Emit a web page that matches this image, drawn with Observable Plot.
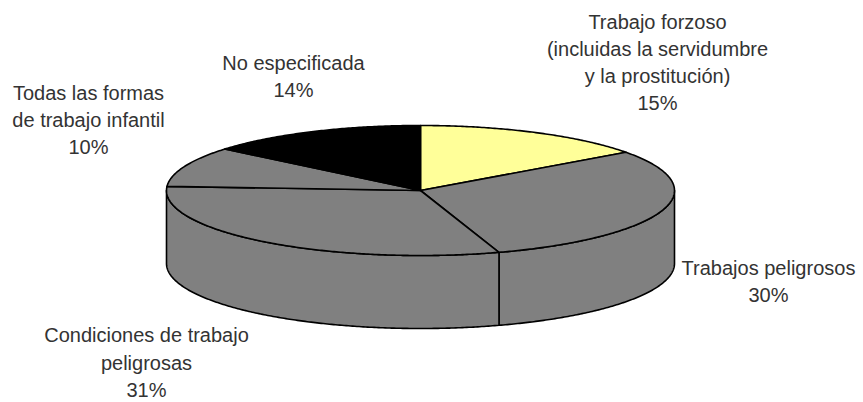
<!DOCTYPE html>
<html>
<head>
<meta charset="utf-8">
<script src="https://cdn.jsdelivr.net/npm/d3@7"></script>
<script src="https://cdn.jsdelivr.net/npm/@observablehq/plot@0.6"></script>
<style>
  html, body { margin: 0; padding: 0; background: #ffffff; }
  #chart svg { display: block; }
</style>
</head>
<body>
<div id="chart"></div>
<script>
// ---- Data ----
const categories = [
  "Trabajo forzoso (incluidas la servidumbre y la prostitución)",
  "Trabajos peligrosos",
  "Condiciones de trabajo peligrosas",
  "Todas las formas de trabajo infantil",
  "No especificada"
];
const values = [15, 30, 31, 10, 14];
const labelTexts = [
  "Trabajo forzoso\n(incluidas la servidumbre\ny la prostitución)\n15%",
  "Trabajos peligrosos\n30%",
  "Condiciones de trabajo\npeligrosas\n31%",
  "Todas las formas\nde trabajo infantil\n10%",
  "No especificada\n14%"
];

// ---- Styles / layout ----
const sliceColors = ["#FFFF99", "#808080", "#808080", "#808080", "#000000"];
const W = 863, H = 402;
const pie = {cx: 420, cy: 190, rx: 254, ry: 65, depth: 73};
// label anchors (center x, top of first line), in pixels
const labelPos = [
  {x: 657, y: 8.8},
  {x: 768, y: 254.8},
  {x: 146, y: 322.5},
  {x: 88, y: 79.8},
  {x: 293, y: 49.8}
];

// ---- Geometry derived from values ----
const total = d3.sum(values);
const rad = d => d * Math.PI / 180;
function pt(deg, off) {
  const t = rad(deg);
  return {x: pie.cx + pie.rx * Math.sin(t), y: pie.cy - pie.ry * Math.cos(t) + off};
}
function arc(a0, a1, off) {
  const n = Math.max(2, Math.ceil(Math.abs(a1 - a0) / 0.5));
  const out = [];
  for (let i = 0; i <= n; i++) out.push(pt(a0 + (a1 - a0) * i / n, off));
  return out;
}

let acc = 0;
const slices = values.map((v, i) => {
  const a0 = acc / total * 360;
  acc += v;
  const a1 = acc / total * 360;
  return {i, a0, a1};
});

const topRows = [];
const wallRows = [];
slices.forEach(s => {
  const c = {x: pie.cx, y: pie.cy};
  const pts = [c, ...arc(s.a0, s.a1, 0), c];
  pts.forEach(p => topRows.push({id: "top" + s.i, x: p.x, y: p.y, color: sliceColors[s.i]}));
  const b0 = Math.max(s.a0, 90), b1 = Math.min(s.a1, 270);
  if (b1 > b0) {
    const upper = arc(b0, b1, 0);
    const lower = arc(b1, b0, pie.depth);
    const poly = [...upper, ...lower, upper[0]];
    poly.forEach(p => wallRows.push({id: "wall" + s.i, x: p.x, y: p.y, color: sliceColors[s.i]}));
  }
});

const labels = labelTexts.map((t, i) => ({text: t, x: labelPos[i].x, y: labelPos[i].y}));

const chart = Plot.plot({
  width: W,
  height: H,
  margin: 0,
  x: {domain: [0, W], range: [0, W], axis: null},
  y: {domain: [0, H], range: [0, H], axis: null},
  color: {type: "identity"},
  style: {background: "#ffffff"},
  marks: [
    Plot.line(wallRows, {x: "x", y: "y", z: "id", fill: "color", stroke: "#000000", strokeWidth: 1.6, strokeLinejoin: "round", curve: "linear"}),
    Plot.line(topRows, {x: "x", y: "y", z: "id", fill: "color", stroke: "#000000", strokeWidth: 1.6, strokeLinejoin: "round", curve: "linear"}),
    Plot.text(labels, {
      x: "x", y: "y", text: "text",
      textAnchor: "middle", lineAnchor: "top", lineHeight: 1.36,
      fontSize: 20, fontFamily: "Liberation Sans, Arial, sans-serif",
      fill: "#333333"
    })
  ]
});
document.getElementById("chart").appendChild(chart);
</script>
</body>
</html>
